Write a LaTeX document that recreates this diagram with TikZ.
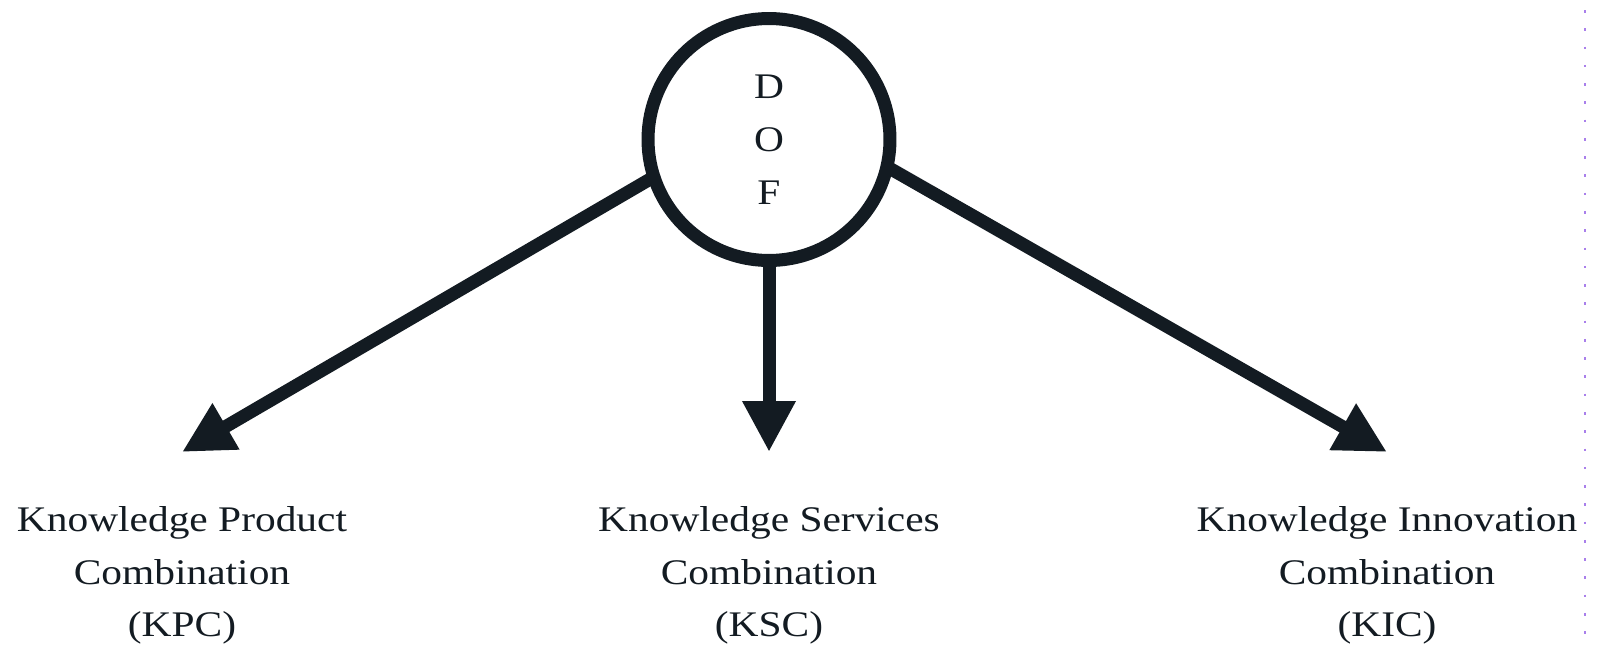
\documentclass[tikz,border=0pt]{standalone}
\usepackage{fontspec}
\setmainfont{Liberation Serif}[FakeStretch=1.15]
\usetikzlibrary{arrows.meta,positioning}
\definecolor{ink}{HTML}{131B22}
\definecolor{guide}{HTML}{A97FEB}
\tikzset{
  link/.style={ink, line width=0.26cm, -{Triangle[length=1.02cm, width=1cm]}},
  combo/.style={align=center, anchor=north, inner sep=0pt, text=ink},
}

\begin{document}
\begin{tikzpicture}[x=0.02cm, y=-0.02cm, font=\fontsize{20.5}{30}\selectfont]
\useasboundingbox (0,0) rectangle (1599,649);
% hub circle
\node[circle, draw=ink, line width=0.26cm, minimum size=4.84cm, inner sep=0pt,
  outer sep=0pt, align=center, text=ink] (dof) at (769,139.5) {D\\O\\F};
% arrow tips
\coordinate (kpcTip) at (182,452);
\coordinate (kscTip) at (769,452);
\coordinate (kicTip) at (1387,452);
% the three combinations
\node[combo] (kpc) at (182,506) {Knowledge Product\\Combination\\(KPC)};
\node[combo] (ksc) at (769,506) {Knowledge Services\\Combination\\(KSC)};
\node[combo] (kic) at (1387,506) {Knowledge Innovation\\Combination\\(KIC)};
\draw[link] (dof.198.8) -- (kpcTip);
\draw[link] (dof.south) -- (kscTip);
\draw[link] (dof.347.2) -- (kicTip);
% guide at the right edge
\draw[guide, line width=1.5pt, dash pattern=on 1.5pt off 8.9pt] (1585,10) -- (1585,649);
\end{tikzpicture}
\end{document}
